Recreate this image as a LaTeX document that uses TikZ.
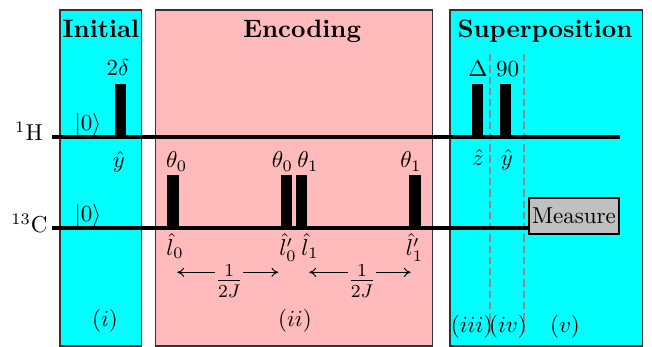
\documentclass[tikz,border=0pt]{standalone}
\usetikzlibrary{arrows.meta}
\definecolor{stcyan}{RGB}{0,255,255}
\definecolor{encpink}{RGB}{255,187,187}
\definecolor{measgray}{RGB}{192,192,192}
\definecolor{dashgray}{RGB}{140,140,140}
\begin{document}
\begin{tikzpicture}[x=0.4348pt,y=-0.4348pt,
  stagebox/.style={draw=black!80,line width=0.6pt},
  stagetitle/.style={anchor=base,font=\fontsize{10.95}{13}\selectfont\bfseries,inner sep=0pt},
  wire/.style={line width=1.4pt},
  pulse/.style={fill=black},
  lab/.style={anchor=base,inner sep=0pt},
  fraclab/.style={anchor=base,inner sep=0pt,font=\fontsize{12}{14}\selectfont},
  sep/.style={draw=dashgray,line width=0.8pt,dash pattern=on 3.2pt off 1.7pt},
  delay/.style={line width=0.4pt,-{To[length=3pt,width=4pt]}},
  measbox/.style={draw=black,fill=measgray,line width=0.8pt,minimum width=39pt,minimum height=15.6pt,inner sep=1pt}]
\useasboundingbox (0,0) rectangle (652,347);
% stage boxes
\draw[stagebox,fill=stcyan] (60,10) rectangle (141.5,346);
\draw[stagebox,fill=encpink] (155.5,10) rectangle (432.5,346);
\draw[stagebox,fill=stcyan] (450,10) rectangle (642.5,346);
\node[stagetitle] (tInit) at (101,38) {Initial};
\node[stagetitle] (tEnc) at (302,38) {Encoding};
\node[stagetitle] (tSup) at (545,38) {Superposition};
% dashed separators
\coordinate (d1t) at (490.3,54); \coordinate (d1b) at (490.3,332);
\coordinate (d2t) at (524.3,54); \coordinate (d2b) at (524.3,332);
\draw[sep] (d1t) -- (d1b);
\draw[sep] (d2t) -- (d2b);
% wires
\coordinate (Hs) at (52,137); \coordinate (He) at (620,137);
\coordinate (Cs) at (52,228); \coordinate (Ce) at (620,228);
\draw[wire] (Hs) -- (He);
\draw[wire] (Cs) -- (Ce);
\node[lab] (Hlab) at (29,141) {${}^{1}\mathrm{H}$};
\node[lab] (Clab) at (29.5,233) {${}^{13}\mathrm{C}$};
\node[lab] (kH) at (88,131) {$|0\rangle$};
\node[lab] (kC) at (88,222) {$|0\rangle$};
% initial pulse
\fill[pulse] (115,84) rectangle (125.5,137);
\node[lab] (p2d) at (118,76) {$2\delta$};
\node[lab] (py1) at (119,168) {$\hat{y}$};
% encoding pulses
\fill[pulse] (167.3,175) rectangle (178.7,228);
\fill[pulse] (280.7,175) rectangle (292,228);
\fill[pulse] (296,175) rectangle (306.7,228);
\fill[pulse] (409.3,175) rectangle (420.7,228);
\node[lab] (th1) at (176.7,168) {$\theta_0$};
\node[lab] (th2) at (282.5,168) {$\theta_0$};
\node[lab] (th3) at (308,168) {$\theta_1$};
\node[lab] (th4) at (411,168) {$\theta_1$};
\node[lab] (l1) at (175,255.5) {$\hat{l}_0$};
\node[lab] (l2) at (288,255.5) {$\hat{l}'_0$};
\node[lab] (l3) at (310,255.5) {$\hat{l}_1$};
\node[lab] (l4) at (414.5,255.5) {$\hat{l}'_1$};
% delays
\node[fraclab] (f1) at (229.3,287.5) {$\frac{1}{2J}$};
\node[fraclab] (f2) at (362,287.5) {$\frac{1}{2J}$};
\coordinate (a1l) at (177.3,272.3); \coordinate (a1m) at (215,272.3);
\coordinate (a1n) at (243,272.3); \coordinate (a1r) at (278.3,272.3);
\coordinate (a2l) at (309.3,272.3); \coordinate (a2m) at (347.5,272.3);
\coordinate (a2n) at (375.5,272.3); \coordinate (a2r) at (410.7,272.3);
\draw[delay] (a1m) -- (a1l);
\draw[delay] (a1n) -- (a1r);
\draw[delay] (a2m) -- (a2l);
\draw[delay] (a2n) -- (a2r);
% superposition pulses
\fill[pulse] (472.3,84.3) rectangle (483.3,137);
\fill[pulse] (500,84.3) rectangle (511,137);
\node[lab] (pD) at (478,77) {$\Delta$};
\node[lab] (p90) at (507.5,77) {$90$};
\node[lab] (pz) at (478,166) {$\hat{z}$};
\node[lab] (py2) at (507,166) {$\hat{y}$};
% measure
\node[measbox] (meas) at (574,216) {Measure};
% stage labels
\node (si) at (105,320.5) {$(i)$};
\node (sii) at (295,321) {$(ii)$};
\node (siii) at (471.7,327) {$(iii)$};
\node (siv) at (508,327) {$(iv)$};
\node (sv) at (565,327) {$(v)$};
\end{tikzpicture}
\end{document}
